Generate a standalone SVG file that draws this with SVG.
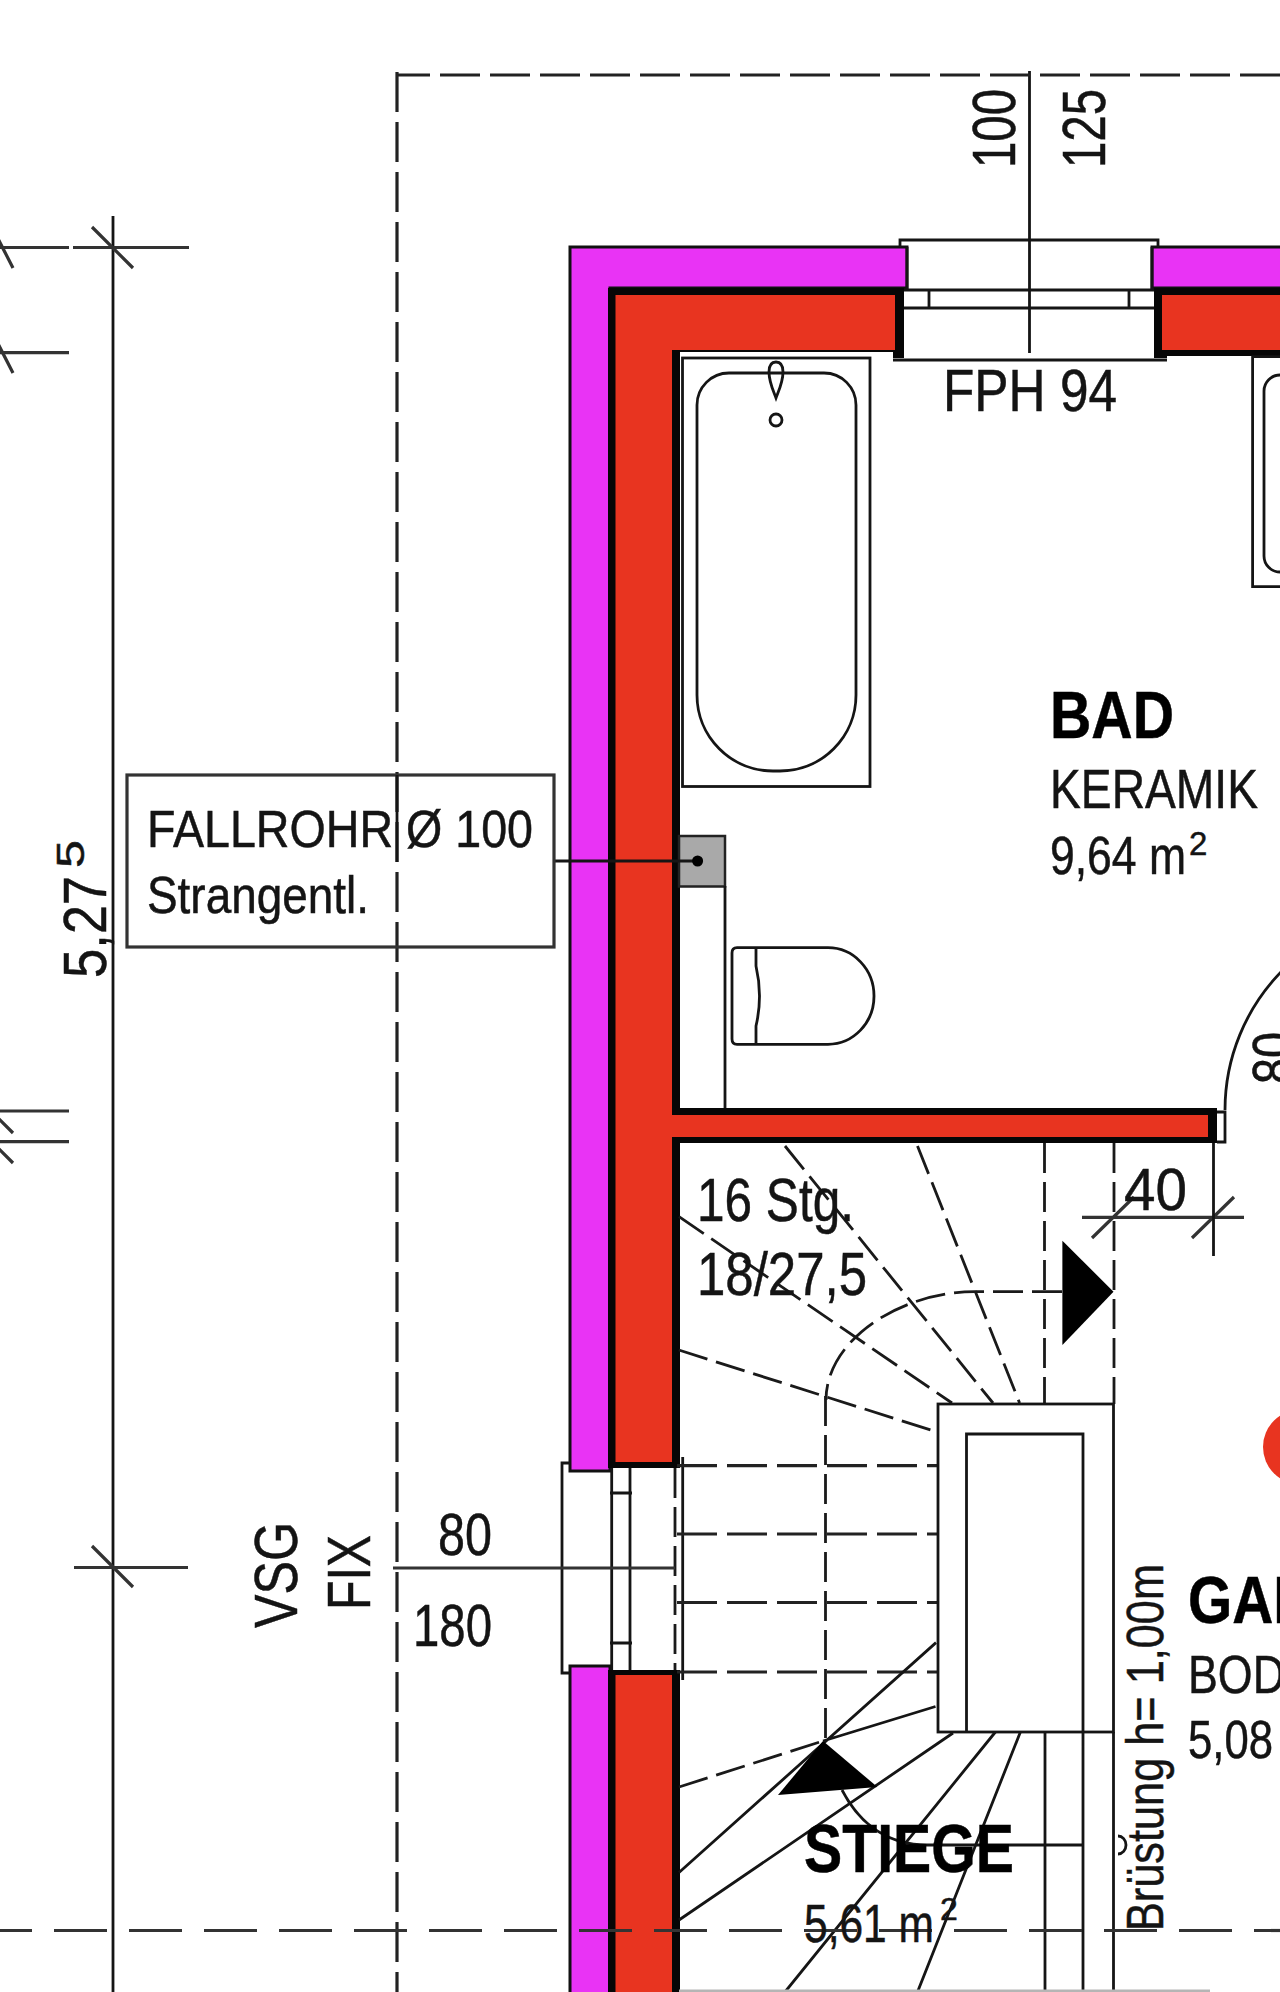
<svg xmlns="http://www.w3.org/2000/svg" width="1280" height="1992" viewBox="0 0 1280 1992">
<style>
.t{font-family:"Liberation Sans",Arial,sans-serif;fill:#141414;stroke:#141414;stroke-width:.5}
.b{font-weight:bold;fill:#000;stroke:#000}
.l{fill:none;stroke:#151515;stroke-width:2.8}
.g{fill:none;stroke:#333;stroke-width:3.2}
.d{fill:none;stroke:#222;stroke-width:3.2;stroke-dasharray:40 10}
.s{fill:none;stroke:#1a1a1a;stroke-width:2.8;stroke-dasharray:30 9}
.a{fill:none;stroke:#333;stroke-width:3.2;stroke-dasharray:53 22}
.p{fill:#e933f5;stroke:#111;stroke-width:3}
.r{fill:#e83420}
.k{fill:#060606}
</style>
<rect width="1280" height="1992" fill="#fff"/>
<g id="walls">
<path class="p" d="M570,1471V247H907V288H610V1471Z"/>
<path class="p" d="M1282,247H1152V288H1282Z"/>
<path class="p" d="M570,1994V1666H610V1994Z"/>
<path class="k" d="M608,1468V288H904V358H893V352H680V1108H1217V1143H680V1468Z"/>
<path class="r" d="M615.5,1462V295H895V350H672V1115H1208V1137H672V1462Z"/>
<path class="k" d="M1280,288H1154V358H1167V356H1280Z"/>
<rect class="r" x="1162" y="295" width="118" height="55"/>
<path class="k" d="M608,1992V1670H680V1992Z"/>
<rect class="r" x="615.5" y="1675" width="56.5" height="317"/>
</g>
<g id="window-top">
<path class="l" d="M900,247V240H1158V247M907,247V290M1152,247V290M904,290H1154M904,308H1154M929,290V308M1129,290V308M893,360H1167"/>
<path class="l" d="M1029.5,71V353"/>
</g>
<g id="window-left">
<path class="l" d="M570,1463H562V1673H570M611.7,1468V1670M630,1468V1670M610,1493H632M610,1643H632M682.7,1457V1680"/>
<path class="s" d="M675,1468V1670"/>
<path class="g" d="M393,1568H675"/>
</g>
<g id="bath">
<rect class="l" x="682.5" y="358" width="187.5" height="428.5"/>
<path class="l" d="M697,405A32,32 0 0 1 729,373H824A32,32 0 0 1 856,405V695A76,76 0 0 1 780,771H773A76,76 0 0 1 697,695Z"/>
<path class="l" d="M776,362C770,362 769,368 769,372C769,382 773,390 776,398C779,390 783,382 783,372C783,368 782,362 776,362Z" fill="#fff"/>
<circle class="l" cx="776" cy="420" r="6"/>
<path class="l" d="M1285,356.7H1252.6V586.7H1285M1285,375H1280A16,16 0 0 0 1264,391V556A16,16 0 0 0 1280,572H1285"/>
<rect x="679" y="836" width="46" height="50.5" fill="#a9a9a9" stroke="#222" stroke-width="2.5"/>
<path class="l" d="M725,886V1108"/>
<path class="l" d="M554,861H697"/>
<circle cx="697.6" cy="861" r="5.5" fill="#000"/>
<path class="l" d="M737,947.7H828A46,48.3 0 0 1 828,1044.3H737Q732,1044.3 732,1039V953Q732,947.7 737,947.7Z"/>
<path class="l" d="M756,947.7V966Q763,996 756,1026V1044.3"/>
<path class="l" d="M1217,1112H1225V1142H1217M1225,1110A198,198 0 0 1 1282,971"/>
<circle cx="1300" cy="1447" r="37" fill="#e83420"/>
</g>
<g id="stairs">
<path class="d" d="M677,1465.6H938M677,1534H938M677,1602.5H938M677,1672H938"/>
<path class="s" d="M678.8,1350L936,1431.7M679,1216.7L952,1403M785,1146L993,1403M917.5,1146L1019.6,1403M1044.5,1143V1403M1114,1143V1404"/>
<path class="s" d="M1062,1291.7H975C900,1291.7 826,1340 826,1400"/>
<path class="s" d="M825.5,1396V1741M679,1787L823,1741"/>
<rect class="l" x="938" y="1404" width="175.5" height="328"/>
<path class="l" d="M966.5,1732V1434H1083V1732"/>
<path class="l" d="M823,1741L935.5,1706.5M679,1872.5L936,1642.6M679,1920L953,1733M785,1992L995.4,1732M917.5,1992L1020.4,1732M1045,1732V1992M1083,1732V1992M1113.5,1732V1992"/>
<path class="l" d="M842,1790C855,1815 880,1845 927,1845H1083"/>
<path class="l" d="M1118,1836A8,9 0 0 1 1118,1854"/>
<path d="M1062.4,1240.7L1113.5,1291.7L1062.4,1345Z" fill="#000"/>
<path d="M823,1741L877.4,1787L778,1795Z" fill="#000"/>
<path d="M679,1991H1210" stroke="#b5b5b5" stroke-width="3" fill="none"/>
</g>
<g id="dimensions">
<path class="l" d="M113,216V1992"/>
<path class="g" d="M0,247.5H69M73,247.5H189M0,352.7H69M0,1111H69M0,1141.6H69M74,1567.5H188"/>
<path class="g" d="M92,227L133,268M-8,227L13,268M-8,332L13,373M-8,1112L13,1133M-8,1142L13,1163M92,1546L133,1587"/>
<path class="g" d="M1082,1217.3H1244M1092,1238L1134,1197M1192,1238L1234,1197"/>
<path class="l" d="M1213.5,1143V1256"/>
<path class="d" d="M397,75H1280" stroke-dashoffset="7"/>
<path class="d" d="M397,72V1992"/>
<path class="a" d="M-21,1930.5H1280"/>
</g>
<g id="label-box">
<rect x="127" y="775" width="427" height="172" fill="none" stroke="#333" stroke-width="3.2"/>
<path class="l" d="M397,775V862"/>
</g>
<g id="labels">
<text class="t" x="147" y="847" font-size="52" textLength="386" lengthAdjust="spacingAndGlyphs">FALLROHR Ø 100</text>
<text class="t" x="147" y="913" font-size="52" textLength="222" lengthAdjust="spacingAndGlyphs">Strangentl.</text>
<text class="t" x="943" y="411" font-size="60" textLength="174" lengthAdjust="spacingAndGlyphs">FPH 94</text>
<text class="t b" x="1050" y="738" font-size="66" textLength="124" lengthAdjust="spacingAndGlyphs">BAD</text>
<text class="t" x="1050" y="808" font-size="55" textLength="208" lengthAdjust="spacingAndGlyphs">KERAMIK</text>
<text class="t" x="1050" y="874" font-size="54" textLength="136" lengthAdjust="spacingAndGlyphs">9,64 m</text>
<text class="t" x="1189" y="855" font-size="33">2</text>
<text class="t" x="697" y="1221" font-size="62" textLength="157" lengthAdjust="spacingAndGlyphs">16 Stg.</text>
<text class="t" x="697" y="1295" font-size="62" textLength="170" lengthAdjust="spacingAndGlyphs">18/27,5</text>
<text class="t" x="1124" y="1210" font-size="60" textLength="63" lengthAdjust="spacingAndGlyphs">40</text>
<text class="t b" x="804" y="1872" font-size="68" textLength="210" lengthAdjust="spacingAndGlyphs">STIEGE</text>
<text class="t" x="804" y="1942" font-size="54" textLength="130" lengthAdjust="spacingAndGlyphs">5,61 m</text>
<text class="t" x="940" y="1920" font-size="32">2</text>
<text class="t b" x="1188" y="1623" font-size="66" textLength="120" lengthAdjust="spacingAndGlyphs">GAL</text>
<text class="t" x="1188" y="1693" font-size="54" textLength="97" lengthAdjust="spacingAndGlyphs">BOD</text>
<text class="t" x="1188" y="1758" font-size="54" textLength="85" lengthAdjust="spacingAndGlyphs">5,08</text>
<text class="t" x="438" y="1555" font-size="60" textLength="54" lengthAdjust="spacingAndGlyphs">80</text>
<text class="t" x="413" y="1646" font-size="60" textLength="79" lengthAdjust="spacingAndGlyphs">180</text>
<text class="t" transform="translate(1163,1931) rotate(-90)" font-size="52" textLength="367" lengthAdjust="spacingAndGlyphs">Brüstung h= 1,00m</text>
<text class="t" transform="translate(1294,1084) rotate(-90)" font-size="60" textLength="52" lengthAdjust="spacingAndGlyphs">80</text>
<text class="t" transform="translate(1015,168) rotate(-90)" font-size="62" textLength="79" lengthAdjust="spacingAndGlyphs">100</text>
<text class="t" transform="translate(1105,168) rotate(-90)" font-size="62" textLength="79" lengthAdjust="spacingAndGlyphs">125</text>
<text class="t" transform="translate(297,1628) rotate(-90)" font-size="62" textLength="106" lengthAdjust="spacingAndGlyphs">VSG</text>
<text class="t" transform="translate(370,1610) rotate(-90)" font-size="62" textLength="75" lengthAdjust="spacingAndGlyphs">FIX</text>
<text class="t" transform="translate(106,978) rotate(-90)" font-size="62" textLength="102" lengthAdjust="spacingAndGlyphs">5,27</text>
<text class="t" transform="translate(84,868) rotate(-90)" font-size="38" textLength="28" lengthAdjust="spacingAndGlyphs">5</text>
</g>
</svg>
